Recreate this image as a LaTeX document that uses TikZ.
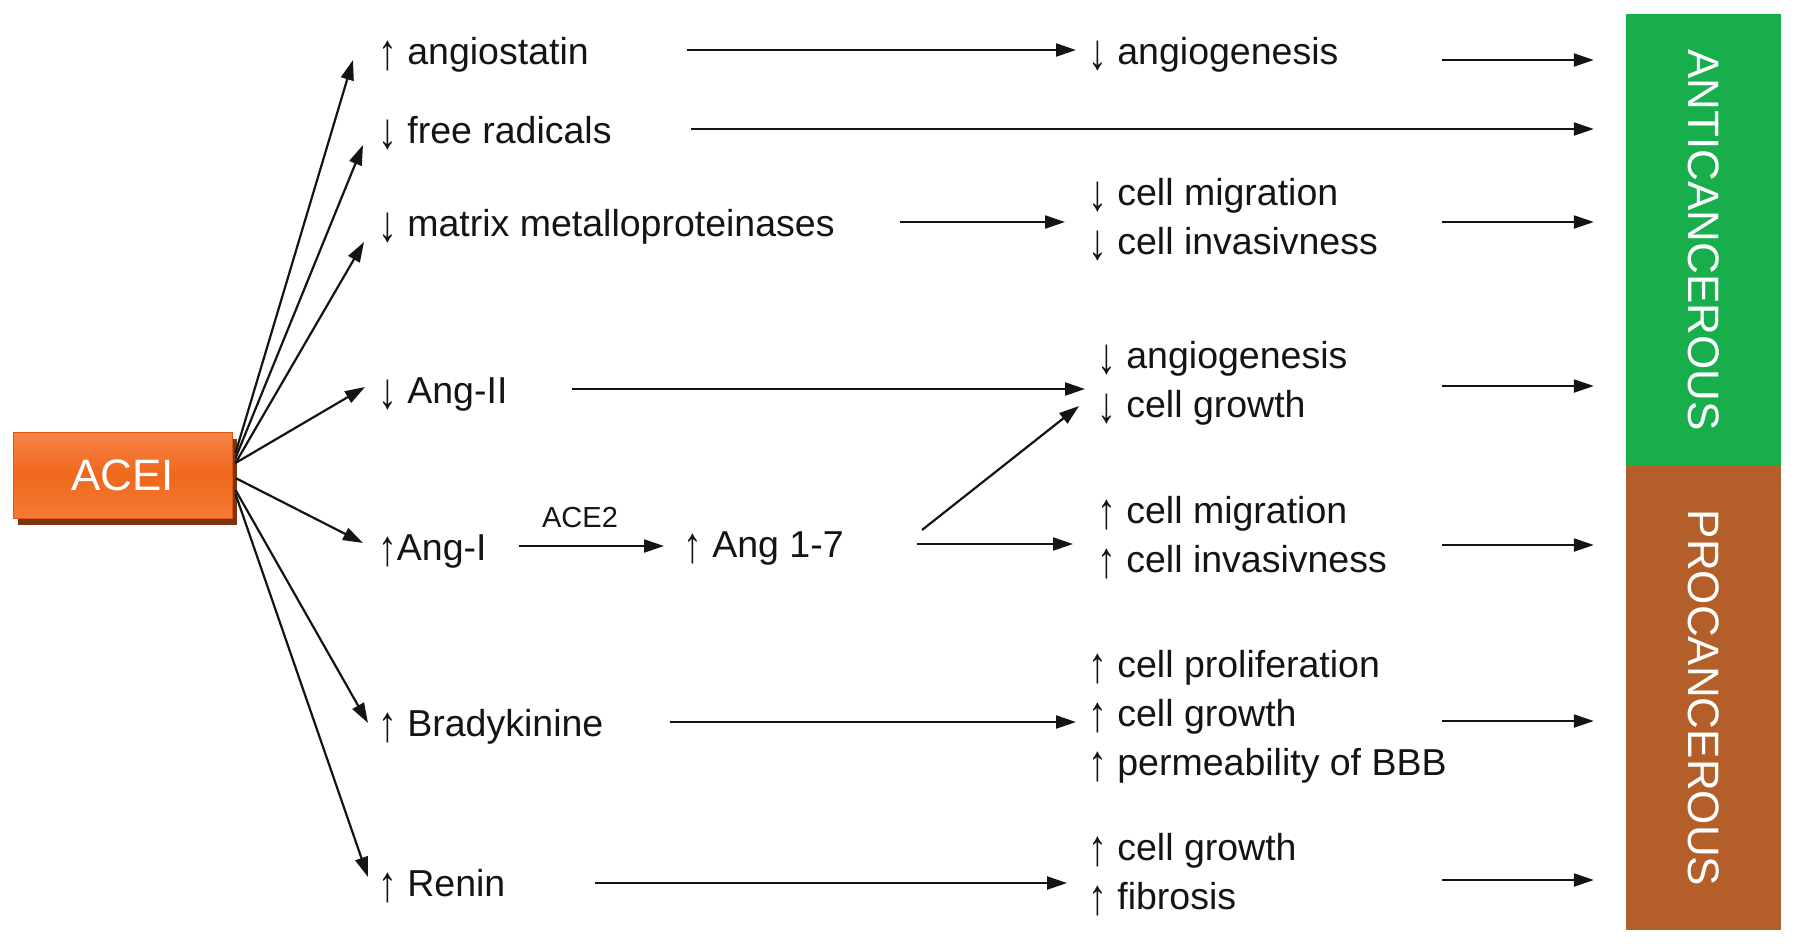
\documentclass[tikz,border=0pt]{standalone}
\usepackage{fontspec}
\setmainfont{Liberation Sans}
\usetikzlibrary{arrows.meta,shadows}
\definecolor{txt}{HTML}{141414}
\definecolor{antig}{HTML}{17AE4B}
\definecolor{prob}{HTML}{B45E29}
\definecolor{orgtop}{HTML}{F68548}
\definecolor{orgmid}{HTML}{F0671C}
\definecolor{orgbot}{HTML}{F57A38}
\definecolor{orgline}{HTML}{E0570F}
\definecolor{shadecol}{HTML}{7A3510}
\newcommand\upa{\raisebox{-5pt}{\resizebox*{\width}{30pt}{↑}}}
\newcommand\dna{\raisebox{-5pt}{\resizebox*{\width}{30pt}{↓}}}
\begin{document}
\begin{tikzpicture}[x=1pt,y=-1pt,
 lbl/.style={anchor=west,inner sep=0pt,text=txt,font=\fontsize{37.5}{49}\selectfont},
 grp/.style={lbl,align=left},
 arr/.style={draw=txt,line width=2.2pt,-{Triangle[length=20pt,width=13pt]}},
 bar/.style={inner sep=0pt,minimum width=155pt},
 bartext/.style={rotate=-90,text=white,font=\fontsize{44}{50}\selectfont,inner sep=0pt}]
\useasboundingbox (0,0) rectangle (1795,943);

% ACEI box
\node[minimum width=219pt, minimum height=86pt, inner sep=0pt,
  general shadow={fill=shadecol, shadow xshift=5pt, shadow yshift=-7pt},
  top color=orgtop, bottom color=orgbot, middle color=orgmid,
  draw=orgline, line width=1pt, text=white,
  font=\fontsize{44}{50}\selectfont] (acei) at (122.5,475) {ACEI};

% left column
\node[lbl] (L1) at (378,55) {\upa\ angiostatin};
\node[lbl] (L2) at (378,133) {\dna\ free radicals};
\node[lbl] (L3) at (378,227) {\dna\ matrix metalloproteinases};
\node[lbl] (L4) at (378,394) {\dna\ Ang-II};
\node[lbl] (L5) at (378,551) {\upa Ang-I};
\node[lbl] (L6) at (378,727) {\upa\ Bradykinine};
\node[lbl] (L7) at (378,886) {\upa\ Renin};
\node[lbl] (ang17) at (683,548) {\upa\ Ang 1-7};
\node[inner sep=0pt,text=txt,font=\fontsize{29}{34}\selectfont] (ace2) at (580,518) {ACE2};

% effect groups
\node[grp] (G1) at (1088,55) {\dna\ angiogenesis};
\node[grp] (G2) at (1088,220) {\dna\ cell migration\\\dna\ cell invasivness};
\node[grp] (G3) at (1097,383) {\dna\ angiogenesis\\\dna\ cell growth};
\node[grp] (G4) at (1097,538) {\upa\ cell migration\\\upa\ cell invasivness};
\node[grp] (G5) at (1088,717) {\upa\ cell proliferation\\\upa\ cell growth\\\upa\ permeability of BBB};
\node[grp] (G6) at (1088,875) {\upa\ cell growth\\\upa\ fibrosis};

% bars
\node[bar, fill=antig, minimum height=452pt] (anti) at (1703.5,240) {};
\node[bartext] (antitxt) at (anti.center) {ANTICANCEROUS};
\node[bar, fill=prob, minimum height=464pt] (pro) at (1703.5,698) {};
\node[bartext] (protxt) at (pro.center) {PROCANCEROUS};

% fan from ACEI
\draw[arr] ([shift={(3,-22)}]acei.east) -- ([shift={(-25,5)}]L1.west);
\draw[arr] ([shift={(3,-17)}]acei.east) -- ([shift={(-15,12)}]L2.west);
\draw[arr] ([shift={(3,-12)}]acei.east) -- ([shift={(-14,15)}]L3.west);
\draw[arr] ([shift={(3,-12)}]acei.east) -- ([shift={(-13,-7)}]L4.west);
\draw[arr] ([shift={(3,3)}]acei.east) -- ([shift={(-15,-8)}]L5.west);
\draw[arr] ([shift={(3,15)}]acei.east) -- ([shift={(-10,-4)}]L6.west);
\draw[arr] ([shift={(3,19)}]acei.east) -- ([shift={(-10,-9)}]L7.west);

% middle arrows
\draw[arr] ([shift={(309,-5)}]L1.west) -- ([shift={(-12,-5)}]G1.west);
\draw[arr] ([shift={(313,-4)}]L2.west) -- ([shift={(-32,-4)}]anti.west |- L2.west);
\draw[arr] ([shift={(522,-5)}]L3.west) -- ([shift={(-23,2)}]G2.west);
\draw[arr] ([shift={(194,-5)}]L4.west) -- ([shift={(-12,6)}]G3.west);
\draw[arr] ([shift={(141,-5)}]L5.west) -- ([shift={(-19,-2)}]ang17.west);
\draw[arr] ([shift={(239,-18)}]ang17.west) -- ([shift={(-18,23)}]G3.west);
\draw[arr] ([shift={(234,-4)}]ang17.west) -- ([shift={(-24,6)}]G4.west);
\draw[arr] ([shift={(292,-5)}]L6.west) -- ([shift={(-12,5)}]G5.west);
\draw[arr] ([shift={(217,-3)}]L7.west) -- ([shift={(-21,8)}]G6.west);

% right arrows to bars
\draw[arr] ([shift={(354,5)}]G1.west) -- ([shift={(-32,5)}]anti.west |- G1.west);
\draw[arr] ([shift={(354,2)}]G2.west) -- ([shift={(-32,2)}]anti.west |- G2.west);
\draw[arr] ([shift={(345,3)}]G3.west) -- ([shift={(-32,3)}]anti.west |- G3.west);
\draw[arr] ([shift={(345,7)}]G4.west) -- ([shift={(-32,7)}]pro.west |- G4.west);
\draw[arr] ([shift={(354,4)}]G5.west) -- ([shift={(-32,4)}]pro.west |- G5.west);
\draw[arr] ([shift={(354,5)}]G6.west) -- ([shift={(-32,5)}]pro.west |- G6.west);
\end{tikzpicture}
\end{document}
